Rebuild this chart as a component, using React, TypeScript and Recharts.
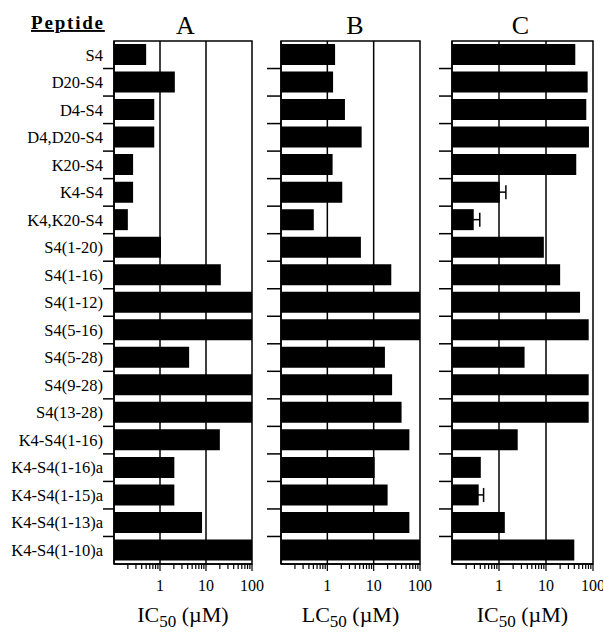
import React from "react";
import { BarChart, Bar, XAxis, YAxis, ReferenceLine, ReferenceArea, ErrorBar, Label } from "recharts";

const peptides = [
  "S4", "D20-S4", "D4-S4", "D4,D20-S4", "K20-S4", "K4-S4", "K4,K20-S4",
  "S4(1-20)", "S4(1-16)", "S4(1-12)", "S4(5-16)", "S4(5-28)", "S4(9-28)",
  "S4(13-28)", "K4-S4(1-16)", "K4-S4(1-16)a", "K4-S4(1-15)a", "K4-S4(1-13)a",
  "K4-S4(1-10)a",
];

// IC50 (A), LC50 (B), IC50 (C), all in µM
const icA = [0.5, 2.1, 0.75, 0.75, 0.26, 0.26, 0.2, 1.05, 21, 100, 100, 4.3, 100, 100, 20, 2.05, 2.05, 8.2, 100];
const lcB = [1.47, 1.33, 2.4, 5.5, 1.3, 2.1, 0.51, 5.3, 24, 100, 100, 17.5, 25, 40, 59, 10.5, 20, 59, 100];
const icC = [42, 77, 72, 82, 44, 1.04, 0.29, 9.0, 20, 53, 81, 3.5, 81, 81, 2.5, 0.41, 0.37, 1.33, 40];
const errC = [
  undefined, undefined, undefined, undefined, undefined, 0.36, 0.1, undefined, undefined, undefined,
  undefined, undefined, undefined, undefined, undefined, undefined, 0.1, undefined, undefined,
];

const majorTicks = [1, 10, 100];
const minorTicks = [0.2, 0.3, 0.4, 0.5, 0.6, 0.7, 0.8, 0.9, 2, 3, 4, 5, 6, 7, 8, 9, 20, 30, 40, 50, 60, 70, 80, 90];

const FONT = '"Liberation Serif", "Times New Roman", serif';
const CHART_H = 632;
const TOP = 41;
const PLOT_H = 523;

function XTick(props: any) {
  const { x, y, payload } = props;
  const major = majorTicks.includes(payload.value);
  return (
    <g>
      <line x1={x} x2={x} y1={y} y2={y + (major ? 7 : 5)} stroke="#000" strokeWidth={1.2} />
      {major && (
        <text x={x} y={y + 27} textAnchor="middle" fontSize={16} fontFamily={FONT} fill="#000">
          {payload.value}
        </text>
      )}
    </g>
  );
}

function makeYTick(showLabels: boolean, tickLen: number) {
  return (props: any) => {
    const { x, y, payload, index } = props;
    const half = PLOT_H / peptides.length / 2;
    return (
      <g>
        {index < peptides.length - 1 && (
          <line x1={x - tickLen} x2={x} y1={y + half} y2={y + half} stroke="#000" strokeWidth={1.5} />
        )}
        {showLabels && (
          <text x={x - tickLen} y={y} dy="0.35em" textAnchor="end" fontSize={16.5} fontFamily={FONT} fill="#000">
            {payload.value}
          </text>
        )}
      </g>
    );
  };
}

function axisTitle(main: string) {
  return (props: any) => {
    const vb = props.viewBox || {};
    const cx = vb.x + vb.width / 2;
    return (
      <text x={cx} y={vb.y + 58} textAnchor="middle" fontFamily={FONT} fontSize={22} fill="#000">
        {main}
        <tspan fontSize={17} dy={5}>50</tspan>
        <tspan dy={-5}>{"\u00a0(\u00b5M)"}</tspan>
      </text>
    );
  };
}

interface PanelProps {
  left: number;
  width: number;
  yWidth: number;
  marginRight: number;
  values: number[];
  errors?: (number | undefined)[];
  showLabels: boolean;
  tickLen: number;
  measure: string;
}

function Panel({ left, width, yWidth, marginRight, values, errors, showLabels, tickLen, measure }: PanelProps) {
  const data = peptides.map((name, i) => ({ name, value: values[i], err: errors ? errors[i] : undefined }));
  return (
    <div style={{ position: "absolute", left, top: 0 }}>
      <BarChart
        layout="vertical"
        width={width}
        height={CHART_H}
        data={data}
        margin={{ top: TOP, right: marginRight, bottom: 0, left: 0 }}
      >
        <XAxis
          type="number"
          scale="log"
          domain={[0.1, 100]}
          allowDataOverflow
          ticks={[...minorTicks, ...majorTicks]}
          interval={0}
          tickSize={0}
          tickMargin={0}
          tickLine={false}
          tick={XTick}
          height={CHART_H - TOP - PLOT_H}
          axisLine={{ stroke: "#000", strokeWidth: 1.5 }}
        >
          <Label content={axisTitle(measure)} />
        </XAxis>
        <YAxis
          type="category"
          dataKey="name"
          width={yWidth}
          interval={0}
          tickSize={0}
          tickMargin={0}
          tickLine={false}
          tick={makeYTick(showLabels, tickLen)}
          axisLine={{ stroke: "#000", strokeWidth: 1.5 }}
        />
        <ReferenceArea x1={0.1} x2={100} fill="none" fillOpacity={0} stroke="#000" strokeWidth={1.5} />
        <ReferenceLine x={1} stroke="#000" strokeWidth={1.5} />
        <ReferenceLine x={10} stroke="#000" strokeWidth={1.5} />
        <Bar dataKey="value" fill="#000" barSize={21} isAnimationActive={false}>
          {errors && <ErrorBar dataKey="err" direction="x" width={7} stroke="#000" strokeWidth={1.5} />}
        </Bar>
      </BarChart>
    </div>
  );
}

export default function App() {
  return (
    <div style={{ position: "absolute", left: 0, top: 0, width: 603, height: 632, background: "#fff", overflow: "hidden" }}>
      <Panel left={0} width={272} yWidth={114} marginRight={20} values={icA} showLabels tickLen={11} measure="IC" />
      <Panel left={260} width={180} yWidth={21} marginRight={20} values={lcB} showLabels={false} tickLen={14} measure="LC" />
      <Panel left={436} width={167} yWidth={16} marginRight={10} values={icC} errors={errC} showLabels={false} tickLen={13} measure="IC" />
      <svg width={603} height={50} style={{ position: "absolute", left: 0, top: 0, pointerEvents: "none" }}>
        <text x={31} y={29} fontFamily={FONT} fontWeight="bold" fontSize={19} letterSpacing={1.8} textDecoration="underline" fill="#000">
          Peptide
        </text>
        <text x={185.5} y={34} textAnchor="middle" fontFamily={FONT} fontSize={26} fill="#000">A</text>
        <text x={355} y={34} textAnchor="middle" fontFamily={FONT} fontSize={26} fill="#000">B</text>
        <text x={520.5} y={34} textAnchor="middle" fontFamily={FONT} fontSize={26} fill="#000">C</text>
      </svg>
    </div>
  );
}
